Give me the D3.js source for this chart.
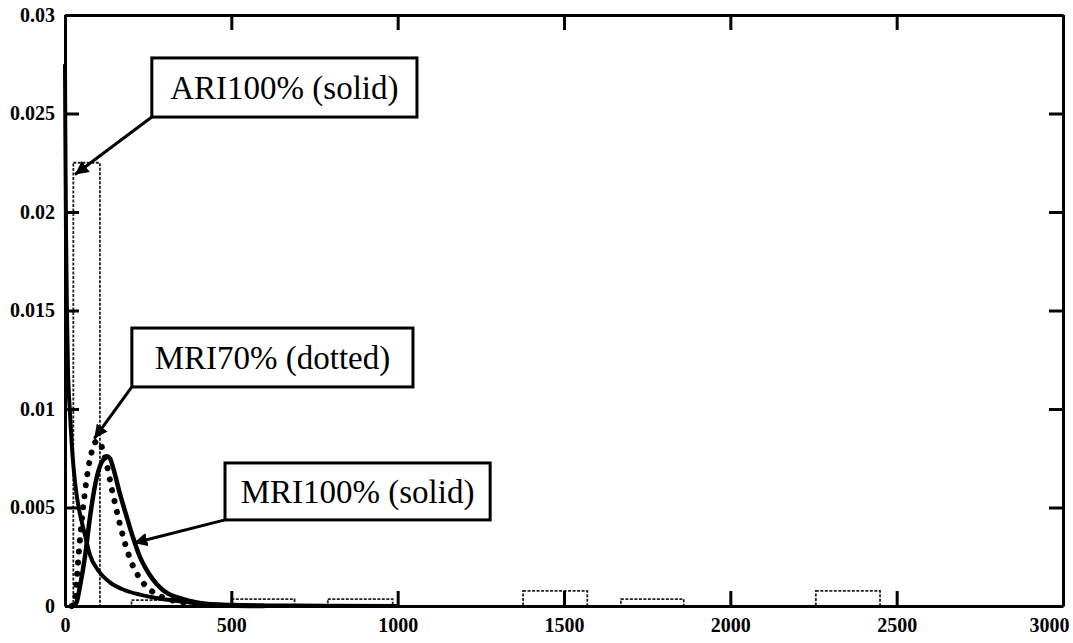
<html>
<head>
  <title>ARI / MRI density</title>
  <script src="https://cdn.jsdelivr.net/npm/d3@7"></script>
</head>
<style>
  body { margin: 0; padding: 0; background: #fff; }
</style>
<body>
  <div id="chart"></div>
</body>
<script>
  // histogram bins (dashed outlines)
  const binLo = [25, 200, 500, 790, 1377, 1671, 2257]
  const binHi = [105, 385, 690, 985, 1570, 1860, 2450]
  const binH  = [0.0225, 0.0003, 0.00035, 0.00035, 0.00077, 0.00035, 0.00077]

  // ARI100% (solid)
  const ariX = [0, 1, 3, 6, 9, 15, 22, 30, 40, 50, 60, 75, 100, 135, 180, 225, 270, 315, 400, 500, 700, 1000]
  const ariY = [0.0275, 0.024, 0.019, 0.0148, 0.012, 0.0098, 0.0078, 0.0063, 0.0051, 0.0043, 0.0036, 0.0026, 0.0018, 0.0012, 0.0008, 0.00058, 0.00042, 0.0003, 0.00013, 0.00006, 0.00002, 0]

  // MRI70% (dotted)
  const m70X = [20, 30, 36, 42, 50, 60, 70, 80, 90, 100, 110, 125, 140, 160, 180, 200, 225, 250, 280, 320, 380, 450]
  const m70Y = [0, 0.0003, 0.0015, 0.0028, 0.0043, 0.0058, 0.007, 0.0078, 0.0083, 0.0084, 0.0081, 0.0072, 0.006, 0.0045, 0.0032, 0.0022, 0.0014, 0.0009, 0.00055, 0.0003, 0.00012, 0.00003]

  // MRI100% (solid)
  const m100X = [25, 35, 45, 60, 75, 90, 105, 118, 126, 135, 145, 165, 186, 204, 225, 250, 276, 306, 345, 405, 500, 600]
  const m100Y = [0, 0.0002, 0.001, 0.0025, 0.0045, 0.0061, 0.0071, 0.0075, 0.0076, 0.0075, 0.007, 0.0057, 0.0045, 0.0035, 0.0025, 0.0017, 0.0011, 0.00066, 0.0004, 0.00015, 0.00003, 0]

  const xTicks = [0, 500, 1000, 1500, 2000, 2500, 3000]
  const xTickLabels = ["0", "500", "1000", "1500", "2000", "2500", "3000"]
  const yTicks = [0, 0.005, 0.01, 0.015, 0.02, 0.025, 0.03]
  const yTickLabels = ["0", "0.005", "0.01", "0.015", "0.02", "0.025", "0.03"]

  // callouts: text, box corners and arrow tip in data units
  const labels = ["ARI100% (solid)", "MRI70% (dotted)", "MRI100% (solid)"]
  const boxX0 = [261, 201, 481]
  const boxX1 = [1058, 1046, 1278]
  const boxY0 = [0.02782, 0.01411, 0.00726]
  const boxY1 = [0.02482, 0.01112, 0.00437]
  const tipX = [30, 88, 207]
  const tipY = [0.0219, 0.0085, 0.0032]

  const width = 1073, height = 643
  const svg = d3.select("#chart").append("svg")
    .attr("width", width)
    .attr("height", height)

  const x = d3.scaleLinear().domain([0, 3000]).range([65, 1063])
  const y = d3.scaleLinear().domain([0, 0.03]).range([606, 15])

  const font = "'Liberation Serif', 'Times New Roman', serif"

  // bins
  svg.append("g").selectAll("rect").data(binLo).join("rect")
    .attr("x", (d, i) => x(d))
    .attr("y", (d, i) => y(binH[i]))
    .attr("width", (d, i) => x(binHi[i]) - x(d))
    .attr("height", (d, i) => y(0) - y(binH[i]))
    .attr("fill", "none")
    .attr("stroke", "#222")
    .attr("stroke-width", 1.8)
    .attr("stroke-dasharray", "3 1.5")

  const line = d3.line()
    .x(d => x(d[0]))
    .y(d => y(d[1]))
    .curve(d3.curveMonotoneX)

  svg.append("path")
    .datum(ariX.map((d, i) => [d, ariY[i]]))
    .attr("d", line)
    .attr("fill", "none")
    .attr("stroke", "#000")
    .attr("stroke-width", 4)

  svg.append("path")
    .datum(m100X.map((d, i) => [d, m100Y[i]]))
    .attr("d", line)
    .attr("fill", "none")
    .attr("stroke", "#000")
    .attr("stroke-width", 4.5)

  svg.append("path")
    .datum(m70X.map((d, i) => [d, m70Y[i]]))
    .attr("d", line)
    .attr("fill", "none")
    .attr("stroke", "#000")
    .attr("stroke-width", 6)
    .attr("stroke-linecap", "round")
    .attr("stroke-dasharray", "0.1 11")

  // axes, ticks pointing inward on all four sides
  const fmtY = d => yTickLabels[yTicks.indexOf(d)]
  const fmtX = d => xTickLabels[xTicks.indexOf(d)]
  const axB = svg.append("g").attr("transform", `translate(0,${y(0)})`)
    .call(d3.axisBottom(x).tickValues(xTicks).tickFormat(fmtX).tickSizeInner(-15).tickSizeOuter(0).tickPadding(12))
  const axT = svg.append("g").attr("transform", `translate(0,${y(0.03)})`)
    .call(d3.axisTop(x).tickValues(xTicks).tickSizeInner(-15).tickSizeOuter(0).tickFormat(""))
  const axL = svg.append("g").attr("transform", `translate(${x(0)},0)`)
    .call(d3.axisLeft(y).tickValues(yTicks).tickFormat(fmtY).tickSizeInner(-14).tickSizeOuter(0).tickPadding(10))
  const axR = svg.append("g").attr("transform", `translate(${x(3000)},0)`)
    .call(d3.axisRight(y).tickValues(yTicks).tickSizeInner(-14).tickSizeOuter(0).tickFormat(""))

  svg.selectAll(".domain").attr("stroke", "#000").attr("stroke-width", 3)
  svg.selectAll(".tick line").attr("stroke", "#000").attr("stroke-width", 3)
  svg.selectAll(".tick text")
    .attr("font-family", font)
    .attr("font-weight", "bold")
    .attr("font-size", "20px")
    .attr("fill", "#000")
  // keep the last x label inside the page
  axB.selectAll(".tick text").filter(d => d === 3000)
    .attr("text-anchor", "end")
    .attr("x", 6)

  // callouts
  svg.append("defs").append("marker")
    .attr("id", "head")
    .attr("viewBox", "0 0 10 10")
    .attr("refX", 10).attr("refY", 5)
    .attr("markerWidth", 4.5).attr("markerHeight", 4.5)
    .attr("orient", "auto")
    .append("path").attr("d", "M0,0 L10,5 L0,10 z").attr("fill", "#000")

  const call = svg.append("g").selectAll("g").data(labels).join("g")

  call.append("line")
    .attr("x1", (d, i) => x(boxX0[i]))
    .attr("y1", (d, i) => y(boxY1[i]))
    .attr("x2", (d, i) => x(tipX[i]))
    .attr("y2", (d, i) => y(tipY[i]))
    .attr("stroke", "#000")
    .attr("stroke-width", 3)
    .attr("marker-end", "url(#head)")

  call.append("rect")
    .attr("x", (d, i) => x(boxX0[i]))
    .attr("y", (d, i) => y(boxY0[i]))
    .attr("width", (d, i) => x(boxX1[i]) - x(boxX0[i]))
    .attr("height", (d, i) => y(boxY1[i]) - y(boxY0[i]))
    .attr("fill", "#fff")
    .attr("stroke", "#000")
    .attr("stroke-width", 3)

  call.append("text")
    .text(d => d)
    .attr("x", (d, i) => (x(boxX0[i]) + x(boxX1[i])) / 2)
    .attr("y", (d, i) => (y(boxY0[i]) + y(boxY1[i])) / 2)
    .attr("dy", "0.35em")
    .attr("text-anchor", "middle")
    .attr("font-family", font)
    .attr("font-size", "33px")
    .attr("fill", "#000")
</script>
</html>
